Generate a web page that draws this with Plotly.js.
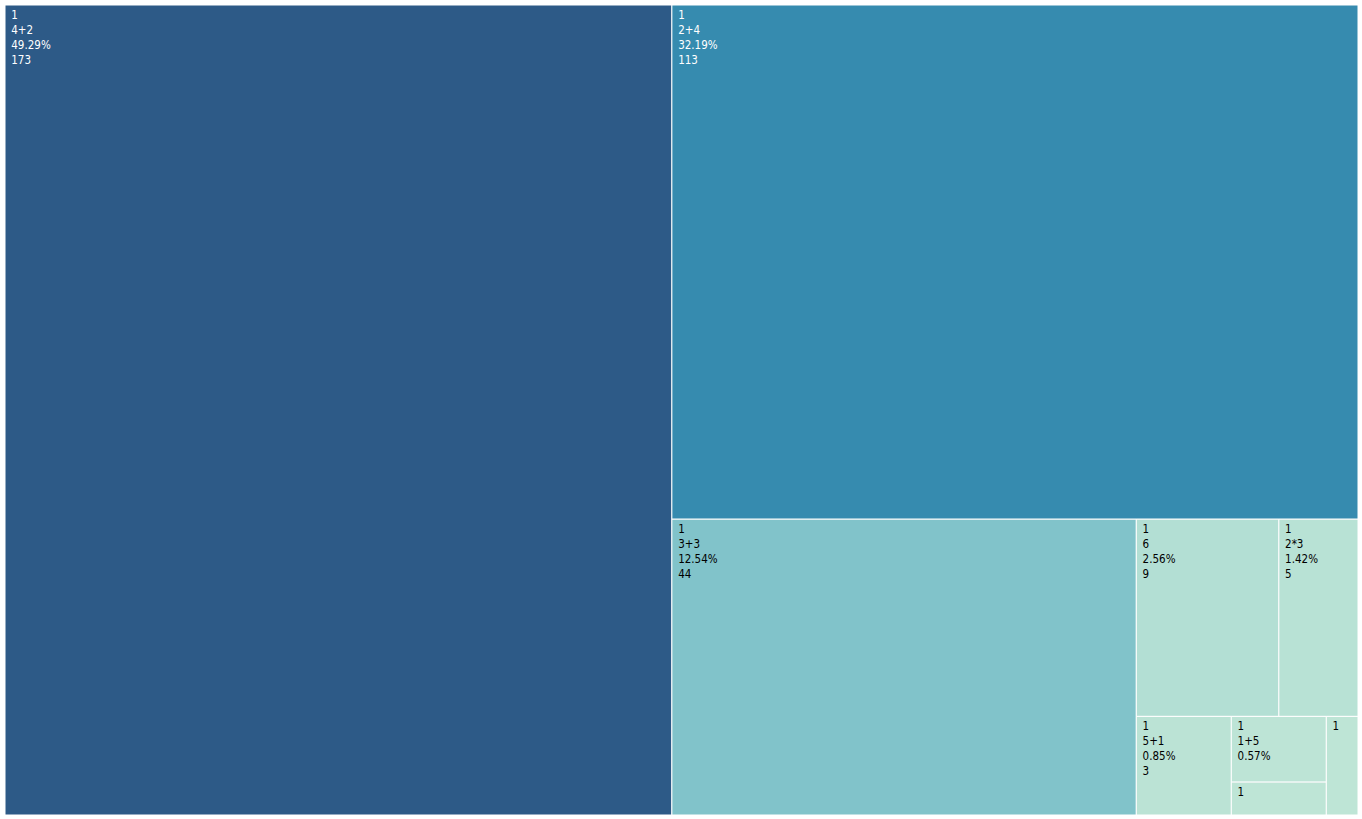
<!DOCTYPE html>
<html>
<head>
<meta charset="utf-8">
<script src="https://cdn.plot.ly/plotly-3.0.1.min.js"></script>
<style>html,body{margin:0;padding:0;background:#fff;}#chart{width:1362px;height:819px;}</style>
</head>
<body>
<div id="chart"></div>
<script>
const labels = ["4+2", "2+4", "3+3", "6", "2*3", "5+1", "1+5", "3*2", "2+2+2"];
const values = [173, 113, 44, 9, 5, 3, 2, 1, 1];
const texts = ["1", "1", "1", "1", "1", "1", "1", "1", "1"];
const parents = labels.map(() => "");

const maxV = Math.max(...values);
const textColors = values.map(v => (v / maxV > 0.4 ? "#ffffff" : "#000000"));

// lines that fit in each tile (small tiles cut off the lower lines)
const S = "\u00A0";
const lines = [S + "%{text}", S + "%{label}", S + "%{percentRoot:.2%}", S + "%{value}"];
const templates = values.map(v => {
  if (v >= 3) return lines.join("<br>");
  if (v === 2) return lines.slice(0, 3).join("<br>");
  return lines[0];
});

const trace = {
  type: "treemap",
  labels: labels,
  parents: parents,
  values: values,
  text: texts,
  texttemplate: templates,
  textposition: "top left",
  textfont: {family: "DejaVu Sans Condensed, DejaVu Sans", size: 11.5, color: textColors},
  sort: true,
  root: {color: "rgba(0,0,0,0)"},
  marker: {
    colors: values,
    colorscale: [
      [0, "rgb(190,229,214)"],
      [0.25, "rgb(129,195,202)"],
      [0.651, "rgb(54,139,175)"],
      [1, "rgb(45,90,135)"]
    ],
    line: {color: "#ffffff", width: 1},
    pad: {t: 0, l: 0, r: 0, b: 0}
  },
  tiling: {pad: 0, squarifyratio: 1.618034},
  pathbar: {visible: false}
};

Plotly.newPlot("chart", [trace], {
  width: 1362, height: 819,
  margin: {l: 5, r: 4, t: 5, b: 4},
  paper_bgcolor: "#ffffff",
  font: {family: "DejaVu Sans Condensed, DejaVu Sans", size: 11.5, color: "#000000"}
}, {displayModeBar: false});
</script>
</body>
</html>
